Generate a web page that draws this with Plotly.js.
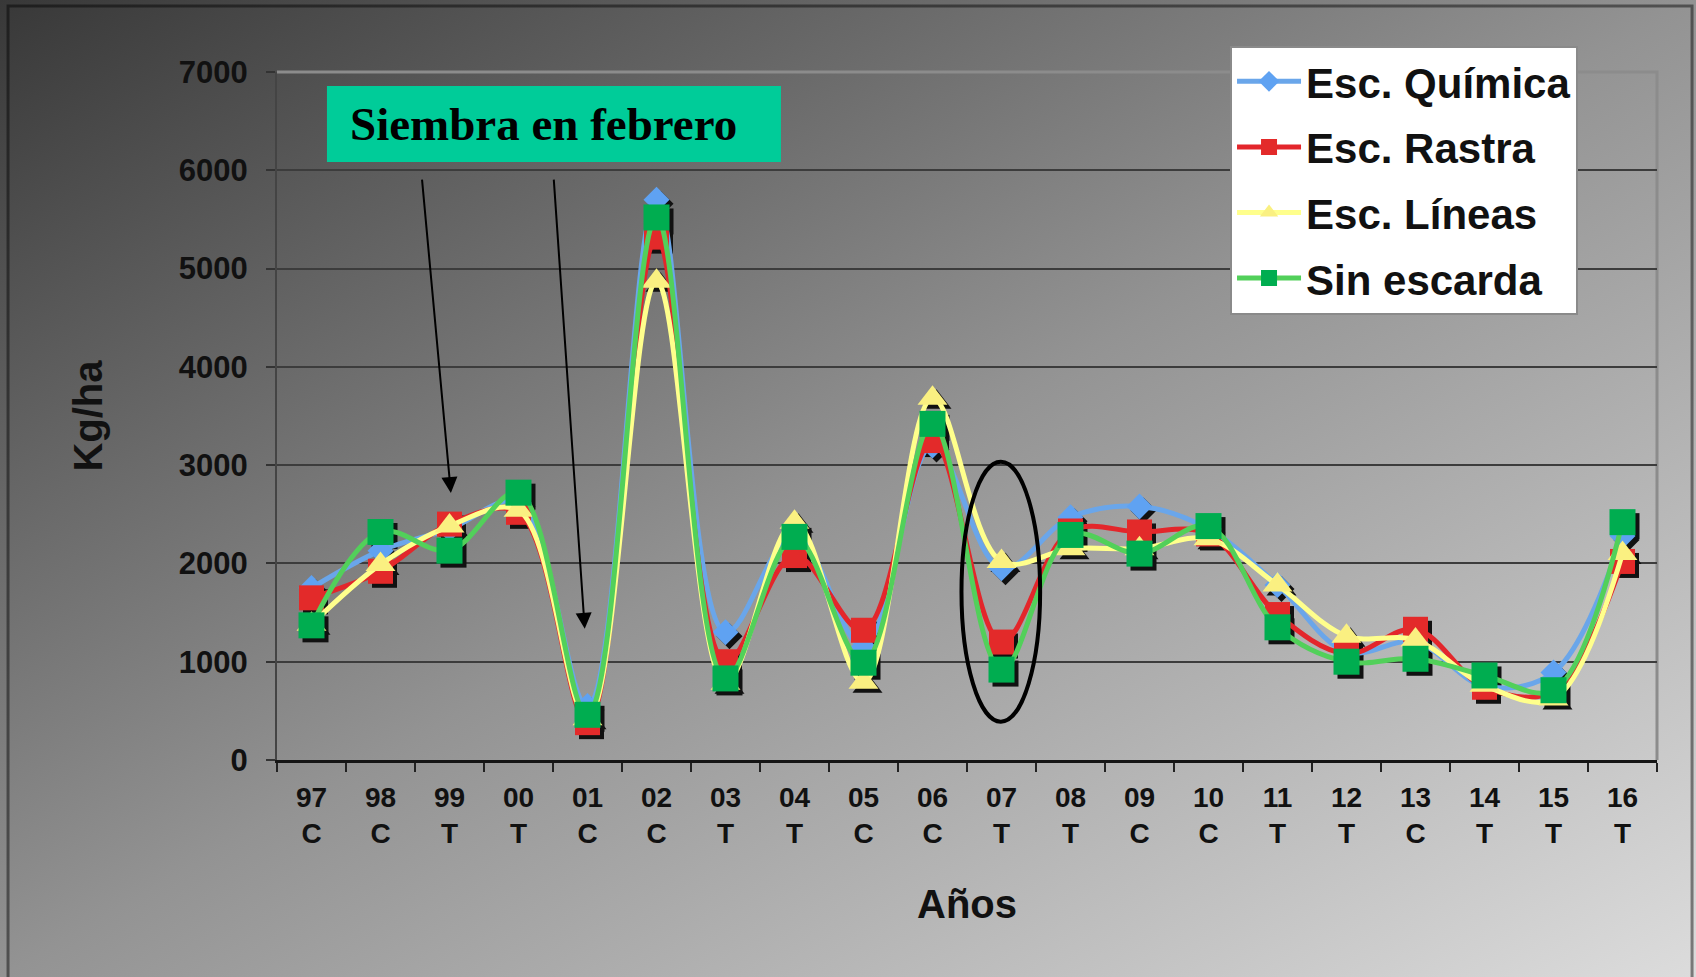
<!DOCTYPE html>
<html>
<head>
<meta charset="utf-8">
<script src="https://cdn.plot.ly/plotly-3.0.1.min.js"></script>
<style>
  html, body { margin: 0; padding: 0; }
  body {
    width: 1696px; height: 977px; overflow: hidden;
    background: linear-gradient(to bottom right, #383838 0%, #939393 50%, #dcdcdc 100%);
  }
  #chart { width: 1696px; height: 977px; }
</style>
</head>
<body>
<div id="chart"></div>
<script>
// ---- data ----
const years   = ['97','98','99','00','01','02','03','04','05','06','07','08','09','10','11','12','13','14','15','16'];
const seasons = ['C','C','T','T','C','C','T','T','C','C','T','T','C','C','T','T','C','T','T','T'];

const escQuimica = [1750, 2130, 2350, 2620,  550, 5700, 1300, 2300, 1150, 3200, 1950, 2470, 2580, 2350, 1780, 1100, 1200,  750,  890, 2280];
const escRastra  = [1650, 1920, 2400, 2520,  380, 5320, 1000, 2080, 1320, 3250, 1200, 2330, 2320, 2300, 1480, 1080, 1330,  740,  700, 2020];
const escLineas  = [1380, 1990, 2380, 2540,  420, 4870,  780, 2420,  790, 3680, 2020, 2150, 2150, 2250, 1780, 1260, 1220,  760,  620, 2100];
const sinEscarda = [1370, 2320, 2130, 2720,  460, 5520,  830, 2270,  990, 3420,  920, 2290, 2100, 2380, 1350, 1000, 1030,  860,  710, 2420];

const seriesNames = ['Esc. Química', 'Esc. Rastra', 'Esc. Líneas', 'Sin escarda'];
const yTitle = 'Kg/ha';
const xTitle = 'Años';
const noteText = 'Siembra en febrero';

// ---- derived ----
const idx = years.map((_, i) => i);
const tickText = years.map((y, i) => y + '<br>' + seasons[i]);
const allSeries = [escQuimica, escRastra, escLineas, sinEscarda];

const styles = [
  { line: '#6aa6ea', marker: '#5fa2f2', symbol: 'diamond',     size: 20 },
  { line: '#e3262b', marker: '#e32a2a', symbol: 'square',      size: 25 },
  { line: '#ffff8c', marker: '#faf081', symbol: 'triangle-up', size: 26 },
  { line: '#52d05a', marker: '#00ad50', symbol: 'square',      size: 26 }
];

const traces = [];
// shadows (drawn slightly offset through a shifted overlay axis)
allSeries.forEach((vals, k) => {
  traces.push({
    x: idx, y: vals, xaxis: 'x2', yaxis: 'y2', type: 'scatter', mode: 'markers',
    marker: { symbol: styles[k].symbol, size: styles[k].size, color: '#111' },
    showlegend: false, hoverinfo: 'skip'
  });
});
// real series
allSeries.forEach((vals, k) => {
  traces.push({
    x: idx, y: vals, xaxis: 'x3', yaxis: 'y3', type: 'scatter', mode: 'lines+markers',
    name: seriesNames[k], legendgroup: 'g' + k,
    line: { color: styles[k].line, width: 5, shape: 'spline', smoothing: 1 },
    marker: { symbol: styles[k].symbol, size: styles[k].size, color: styles[k].marker }
  });
});

const W = 1696, H = 977;
const mL = 277, mR = 39, mT = 72, mB = 217;
const plotW = W - mL - mR, plotH = H - mT - mB;
const xr = [-0.5, 19.5], yr = [0, 7000];
const dx = 4 * (xr[1] - xr[0]) / plotW;
const dy = 4 * (yr[1] - yr[0]) / plotH;

const boldFont = (size, family) => ({ family: family || 'Liberation Sans, Arial, sans-serif', size: size, color: '#111', weight: 'bold' });

const layout = {
  width: W, height: H,
  margin: { l: mL, r: mR, t: mT, b: mB },
  paper_bgcolor: 'rgba(0,0,0,0)',
  plot_bgcolor: 'rgba(0,0,0,0)',
  showlegend: true,
  xaxis: {
    type: 'linear', range: xr, fixedrange: true,
    tickmode: 'array', tickvals: idx, ticktext: tickText,
    ticks: '', tickfont: boldFont(28), ticklabelstandoff: 10,
    minor: { tick0: -0.5, dtick: 1, ticks: 'outside', ticklen: 9, tickwidth: 2, tickcolor: '#222', showgrid: false },
    showgrid: false, zeroline: false,
    showline: true, linecolor: '#151515', linewidth: 3,
    title: { text: xTitle, font: boldFont(40), standoff: 42 }
  },
  yaxis: {
    type: 'linear', range: yr, dtick: 1000, fixedrange: true,
    ticks: 'outside', ticklen: 9, tickwidth: 2, tickcolor: '#333',
    tickfont: boldFont(31), ticklabelstandoff: 12,
    showgrid: true, gridcolor: '#3c3c3c', gridwidth: 2,
    zeroline: false, showline: true, linecolor: '#444', linewidth: 2,
    title: { text: yTitle, font: boldFont(40), standoff: 64 }
  },
  xaxis2: { overlaying: 'x', range: [xr[0] - dx, xr[1] - dx], visible: false, fixedrange: true },
  yaxis2: { overlaying: 'y', range: [yr[0] + dy, yr[1] + dy], visible: false, fixedrange: true },
  xaxis3: { overlaying: 'x', range: xr, visible: false, fixedrange: true },
  yaxis3: { overlaying: 'y', range: yr, visible: false, fixedrange: true },
  legend: {
    x: 0.6906, y: 1.0385, xanchor: 'left', yanchor: 'top',
    bgcolor: '#ffffff', bordercolor: '#8a8a8a', borderwidth: 2,
    font: boldFont(42), itemwidth: 64, tracegroupgap: 8, traceorder: 'grouped'
  },
  shapes: [
    // outer frame
    { type: 'rect', xref: 'paper', yref: 'paper', x0: -0.1949, x1: 1.0254, y0: -0.40, y1: 1.0959,
      line: { color: 'rgba(0,0,0,0.45)', width: 3 }, layer: 'below' },
    // plot frame top/right
    { type: 'path', xref: 'paper', yref: 'paper', path: 'M0,1 L1,1 L1,0',
      line: { color: '#8c8c8c', width: 3 }, layer: 'below' },
    // green note box
    { type: 'rect', xref: 'paper', yref: 'paper', x0: 0.0362, x1: 0.3652, y0: 0.8692, y1: 0.9797,
      fillcolor: '#00cc99', line: { width: 0 }, layer: 'above' },
    // ellipse around 07
    { type: 'circle', xref: 'x', yref: 'y', x0: 9.42, x1: 10.56, y0: 390, y1: 3035,
      line: { color: '#000', width: 4 }, layer: 'above' }
  ],
  annotations: [
    { xref: 'paper', yref: 'paper', x: 0.0514, y: 0.9244, xanchor: 'left', yanchor: 'middle',
      text: noteText, showarrow: false,
      font: { family: 'Liberation Serif, Times New Roman, serif', size: 47, color: '#000', weight: 'bold' } },
    { xref: 'x', yref: 'y', axref: 'x', ayref: 'y', x: 2.02, y: 2716, ax: 1.60, ay: 5920,
      text: '', showarrow: true, arrowhead: 2, arrowsize: 1.6, arrowwidth: 2, arrowcolor: '#000', standoff: 0 },
    { xref: 'x', yref: 'y', axref: 'x', ayref: 'y', x: 3.96, y: 1335, ax: 3.51, ay: 5920,
      text: '', showarrow: true, arrowhead: 2, arrowsize: 1.6, arrowwidth: 2, arrowcolor: '#000', standoff: 0 }
  ]
};

Plotly.newPlot('chart', traces, layout, { staticPlot: true, displayModeBar: false });
</script>
</body>
</html>
